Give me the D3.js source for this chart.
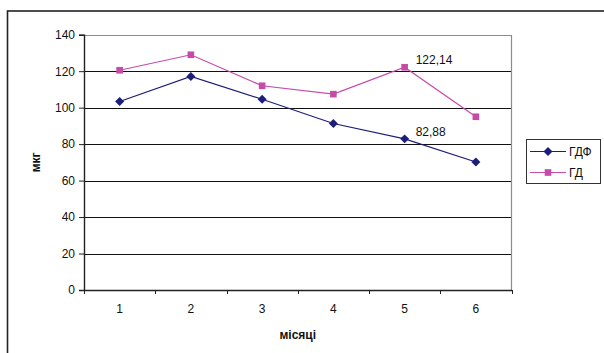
<!DOCTYPE html>
<html>
<head>
<meta charset="utf-8">
<script src="https://cdn.jsdelivr.net/npm/d3@7"></script>
<style>
  html, body { margin: 0; padding: 0; background: #fff; }
  svg { display: block; font-family: "Liberation Sans", Arial, sans-serif; }
</style>
</head>
<body>
<svg id="chart" width="604" height="353"></svg>
<script>
// Months on the x axis
const months = ["1", "2", "3", "4", "5", "6"];
// Monthly values, мкг
const gdfValues = [103.4, 117.1, 104.6, 91.3, 82.88, 70.2];
const gdValues = [120.5, 129.0, 112.0, 107.4, 122.14, 95.0];
const seriesNames = ["ГДФ", "ГД"];
const yTicks = [0, 20, 40, 60, 80, 100, 120, 140];
// Values written next to their points (series index, month index)
const annotated = [
  { s: 1, i: 4 },
  { s: 0, i: 4 }
];

const seriesValues = [gdfValues, gdValues];
const colors = ["#1d1d7a", "#c64aa8"];

const svg = d3.select("#chart");

// outer frame (continues past the right and bottom edges)
svg.append("rect")
  .attr("x", 7.5).attr("y", 11)
  .attr("width", 640).attr("height", 400)
  .attr("fill", "none").attr("stroke", "#222").attr("stroke-width", 1.6);

const plot = { left: 84, right: 511.5, top: 34.7, bottom: 290 };

const x = d3.scaleBand().domain(months).range([plot.left, plot.right]);
const y = d3.scaleLinear().domain([0, 140]).range([plot.bottom, plot.top]);

// gridlines
svg.append("g")
  .selectAll("line")
  .data(yTicks.filter(t => t > 0))
  .join("line")
  .attr("x1", plot.left).attr("x2", plot.right)
  .attr("y1", d => Math.round(y(d)) + 0.5).attr("y2", d => Math.round(y(d)) + 0.5)
  .attr("stroke", "#111").attr("stroke-width", 1);

// plot border (top and right)
svg.append("path")
  .attr("d", `M${plot.left},${Math.round(y(140)) + 0.5}H${plot.right}V${plot.bottom}`)
  .attr("fill", "none").attr("stroke", "#8c8c8c").attr("stroke-width", 1.2);

// y axis
const yAxis = svg.append("g")
  .attr("transform", `translate(${plot.left},0)`)
  .call(d3.axisLeft(y).tickValues(yTicks).tickSize(5).tickPadding(4).tickFormat(d3.format("d")));
yAxis.select(".domain").attr("stroke", "#222").attr("stroke-width", 1.4);
yAxis.selectAll(".tick line").attr("stroke", "#222");
yAxis.selectAll("text").attr("font-size", 12).attr("fill", "#111")
  .attr("font-family", "Liberation Sans, Arial, sans-serif");

// x axis with ticks between categories
const xAxis = svg.append("g")
  .attr("transform", `translate(0,${plot.bottom})`)
  .call(d3.axisBottom(x).tickSize(0).tickPadding(14));
xAxis.select(".domain").attr("stroke", "#222").attr("stroke-width", 1.4);
xAxis.selectAll("text").attr("font-size", 12).attr("fill", "#111")
  .attr("font-family", "Liberation Sans, Arial, sans-serif");
svg.append("g")
  .selectAll("line")
  .data(months.map(m => x(m)).concat([x(months[months.length - 1]) + x.bandwidth()]))
  .join("line")
  .attr("x1", d => Math.round(d) + 0.5).attr("x2", d => Math.round(d) + 0.5)
  .attr("y1", plot.bottom).attr("y2", plot.bottom + 4)
  .attr("stroke", "#222");

// axis titles
svg.append("text")
  .attr("x", (plot.left + plot.right) / 2)
  .attr("y", 339)
  .attr("text-anchor", "middle")
  .attr("font-size", 12).attr("font-weight", "bold").attr("fill", "#111")
  .text("місяці");
svg.append("text")
  .attr("transform", `translate(40,${(plot.top + plot.bottom) / 2}) rotate(-90)`)
  .attr("text-anchor", "middle")
  .attr("font-size", 12).attr("font-weight", "bold").attr("fill", "#111")
  .text("мкг");

const cx = m => x(m) + x.bandwidth() / 2;
const line = d3.line().x((d, i) => cx(months[i])).y(d => y(d));

// marker shapes: an even diamond and a square
const evenDiamond = {
  draw(ctx, size) {
    const r = Math.sqrt(size / 2);
    ctx.moveTo(0, -r); ctx.lineTo(r, 0); ctx.lineTo(0, r); ctx.lineTo(-r, 0); ctx.closePath();
  }
};
const diamond = d3.symbol().type(evenDiamond).size(40);
const square = d3.symbol().type(d3.symbolSquare).size(44);
const shapes = [diamond, square];

// series lines and markers
seriesValues.forEach((vals, s) => {
  svg.append("path")
    .datum(vals)
    .attr("d", line)
    .attr("fill", "none")
    .attr("stroke", colors[s])
    .attr("stroke-width", 1.2);
  svg.append("g")
    .selectAll("path")
    .data(vals)
    .join("path")
    .attr("transform", (d, i) => `translate(${cx(months[i])},${y(d)})`)
    .attr("d", shapes[s])
    .attr("fill", colors[s]);
});

// value labels
const fmt = v => d3.format(".2f")(v).replace(".", ",");
svg.append("g")
  .selectAll("text")
  .data(annotated)
  .join("text")
  .attr("x", d => cx(months[d.i]) + 11)
  .attr("y", d => y(seriesValues[d.s][d.i]) - 3)
  .attr("font-size", 12).attr("fill", "#111")
  .text(d => fmt(seriesValues[d.s][d.i]));

// legend
const legend = svg.append("g");
legend.append("rect")
  .attr("x", 526.5).attr("y", 139.5).attr("width", 74).attr("height", 44)
  .attr("fill", "#fff").attr("stroke", "#333").attr("stroke-width", 1);
seriesNames.forEach((name, s) => {
  const ly = 151.5 + s * 21;
  legend.append("line")
    .attr("x1", 530).attr("x2", 566).attr("y1", ly).attr("y2", ly)
    .attr("stroke", colors[s]).attr("stroke-width", 1.2);
  legend.append("path")
    .attr("transform", `translate(548,${ly})`)
    .attr("d", shapes[s])
    .attr("fill", colors[s]);
  legend.append("text")
    .attr("x", 569).attr("y", ly + 4.5)
    .attr("font-size", 12).attr("fill", "#111")
    .text(name);
});
</script>
</body>
</html>
